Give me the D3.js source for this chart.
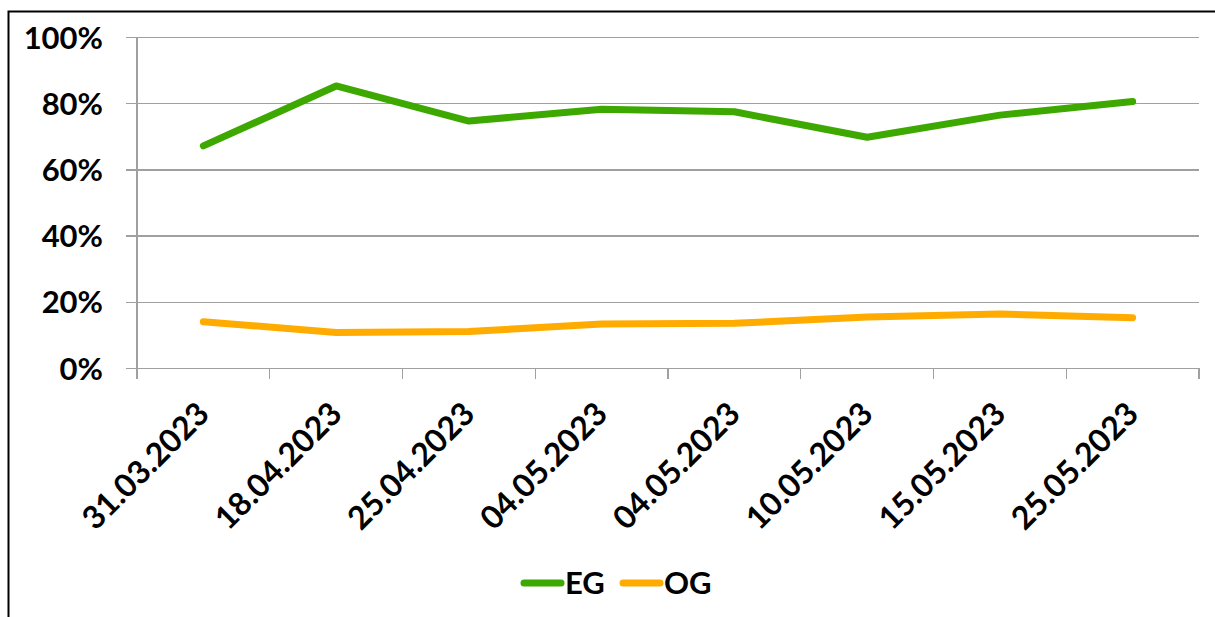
<!DOCTYPE html>
<html>
<head>
<meta charset="utf-8">
<script src="https://cdn.jsdelivr.net/npm/d3@7"></script>
<style>
  html, body { margin: 0; padding: 0; background: #fff; }
  svg { display: block; }
  text { font-family: Lato, "Open Sans", sans-serif; font-weight: bold; fill: #000; }
</style>
</head>
<body>
<svg id="chart" width="1215" height="617"></svg>
<script>
// Sampling dates (category axis)
const dates = ["31.03.2023", "18.04.2023", "25.04.2023", "04.05.2023",
               "04.05.2023", "10.05.2023", "15.05.2023", "25.05.2023"];
// Shares per date
const egValues = [0.671, 0.852, 0.746, 0.782, 0.774, 0.697, 0.764, 0.805];
const ogValues = [0.140, 0.107, 0.110, 0.133, 0.135, 0.154, 0.163, 0.152];
const yTicks = [0, 0.2, 0.4, 0.6, 0.8, 1.0];
const seriesNames = ["EG", "OG"];
const seriesColors = ["#3da800", "#ffab00"];

const svg = d3.select("#chart");
const W = 1215, H = 617;
const plot = { left: 137, right: 1199, top: 37, bottom: 368 };

// outer frame (left + top edges visible)
svg.append("rect")
  .attr("x", 8.5).attr("y", 11.5)
  .attr("width", W + 10).attr("height", H + 10)
  .attr("fill", "none").attr("stroke", "#000").attr("stroke-width", 2);

const x = d3.scaleBand()
  .domain(d3.range(dates.length))
  .range([plot.left, plot.right])
  .paddingInner(0).paddingOuter(0);

const y = d3.scaleLinear().domain([0, 1]).range([plot.bottom, plot.top]);

// horizontal gridlines with y-axis labels
const yAxis = d3.axisLeft(y)
  .tickValues(yTicks)
  .tickFormat(d3.format(".0%"))
  .tickSizeOuter(0);

const gy = svg.append("g")
  .attr("transform", `translate(${plot.right},0)`)
  .call(yAxis);
gy.select(".domain").remove();
gy.selectAll(".tick line")
  .attr("x1", 0)
  .attr("x2", -(plot.right - plot.left) - 11)
  .attr("stroke", "#a0a0a0").attr("stroke-width", 1.3)
  .attr("shape-rendering", "crispEdges");
gy.selectAll(".tick text")
  .attr("x", -(plot.right - plot.left) - 34)
  .attr("text-anchor", "end")
  .attr("font-size", 31)
  .attr("dy", "0.36em");

// vertical axis line
svg.append("line")
  .attr("x1", plot.left).attr("x2", plot.left)
  .attr("y1", plot.top).attr("y2", plot.bottom + 11)
  .attr("stroke", "#a0a0a0").attr("stroke-width", 1.3)
  .attr("shape-rendering", "crispEdges");

// category boundary tick marks
const boundaries = d3.range(dates.length + 1).map(i =>
  i < dates.length ? x(i) : x(dates.length - 1) + x.bandwidth());
svg.append("g").selectAll("line")
  .data(boundaries)
  .join("line")
  .attr("x1", d => d).attr("x2", d => d)
  .attr("y1", plot.bottom).attr("y2", plot.bottom + 11)
  .attr("stroke", "#a0a0a0").attr("stroke-width", 1.3)
  .attr("shape-rendering", "crispEdges");

// rotated date labels
const cx = i => x(i) + x.bandwidth() / 2;
svg.append("g").selectAll("text")
  .data(dates)
  .join("text")
  .attr("transform", (d, i) => `translate(${cx(i) - 8},${plot.bottom + 32}) rotate(-45)`)
  .attr("text-anchor", "end")
  .attr("dy", "0.7em")
  .attr("font-size", 32)
  .text(d => d);

// series lines
const line = d3.line()
  .x((d, i) => cx(i))
  .y(d => y(d));

[egValues, ogValues].forEach((vals, k) => {
  svg.append("path")
    .datum(vals)
    .attr("d", line)
    .attr("fill", "none")
    .attr("stroke", seriesColors[k])
    .attr("stroke-width", 7)
    .attr("stroke-linecap", "round")
    .attr("stroke-linejoin", "round");
});

// legend
const legend = svg.append("g").attr("transform", "translate(521,583)");
const legendX = [0, 99];
seriesNames.forEach((name, k) => {
  const g = legend.append("g").attr("transform", `translate(${legendX[k]},0)`);
  g.append("line")
    .attr("x1", 3).attr("x2", 40)
    .attr("y1", 0).attr("y2", 0)
    .attr("stroke", seriesColors[k])
    .attr("stroke-width", 7)
    .attr("stroke-linecap", "round");
  g.append("text")
    .attr("x", 44).attr("y", 0)
    .attr("dy", "0.36em")
    .attr("font-size", 31)
    .text(name);
});
</script>
</body>
</html>
